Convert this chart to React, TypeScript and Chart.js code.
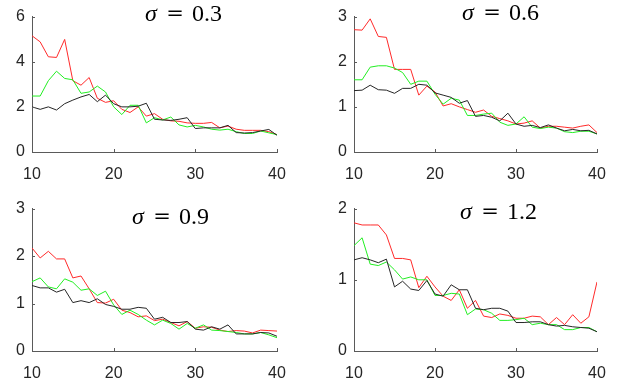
import React, { useEffect, useRef } from "react";
import { Chart, registerables } from "chart.js";
Chart.register(...registerables);

const xs = [10, 11, 12, 13, 14, 15, 16, 17, 18, 19, 20, 21, 22, 23, 24, 25, 26, 27, 28, 29, 30, 31, 32, 33, 34, 35, 36, 37, 38, 39, 40];

// sigma = 0.3
const s03Red = [5.15, 4.88, 4.22, 4.19, 4.99, 3.16, 2.96, 3.3, 2.38, 2.2, 2.27, 1.89, 1.75, 2.0, 1.59, 1.7, 1.45, 1.38, 1.36, 1.29, 1.27, 1.27, 1.31, 1.07, 1.15, 1.01, 0.96, 0.96, 0.96, 0.9, 0.77];
const s03Green = [2.48, 2.48, 3.16, 3.58, 3.26, 3.2, 2.6, 2.66, 2.92, 2.66, 2.0, 1.66, 2.07, 2.07, 1.29, 1.52, 1.42, 1.55, 1.2, 1.11, 1.18, 1.11, 1.01, 0.97, 1.01, 0.9, 0.82, 0.82, 0.93, 0.85, 0.77];
const s03Black = [2.0, 1.89, 2.0, 1.86, 2.14, 2.3, 2.44, 2.55, 2.23, 2.52, 2.14, 2.0, 2.0, 2.03, 2.16, 1.45, 1.42, 1.4, 1.45, 1.52, 1.04, 1.07, 1.07, 1.07, 1.18, 0.86, 0.84, 0.86, 0.93, 1.0, 0.74];

// sigma = 0.6
const s06Red = [2.71, 2.7, 2.95, 2.56, 2.54, 1.83, 1.83, 1.83, 1.26, 1.46, 1.33, 1.02, 1.07, 1.0, 0.94, 0.88, 0.93, 0.79, 0.74, 0.69, 0.62, 0.64, 0.69, 0.53, 0.57, 0.57, 0.55, 0.53, 0.57, 0.6, 0.43];
const s06Green = [1.6, 1.6, 1.88, 1.91, 1.91, 1.86, 1.76, 1.5, 1.57, 1.57, 1.28, 1.06, 1.19, 1.15, 0.81, 0.81, 0.84, 0.86, 0.66, 0.59, 0.62, 0.78, 0.55, 0.52, 0.55, 0.53, 0.45, 0.43, 0.46, 0.46, 0.4];
const s06Black = [1.36, 1.37, 1.48, 1.38, 1.37, 1.3, 1.41, 1.41, 1.5, 1.48, 1.31, 1.26, 1.21, 1.08, 1.14, 0.79, 0.81, 0.77, 0.69, 0.86, 0.62, 0.57, 0.59, 0.54, 0.6, 0.53, 0.47, 0.5, 0.47, 0.48, 0.4];

// sigma = 0.9
const s09Red = [2.17, 1.96, 2.1, 1.94, 1.94, 1.54, 1.58, 1.31, 1.02, 1.01, 1.09, 0.86, 0.81, 0.72, 0.74, 0.64, 0.67, 0.6, 0.53, 0.62, 0.48, 0.51, 0.5, 0.44, 0.41, 0.43, 0.42, 0.38, 0.44, 0.43, 0.42];
const s09Green = [1.46, 1.54, 1.35, 1.31, 1.52, 1.45, 1.28, 1.31, 1.17, 1.26, 0.97, 0.77, 0.86, 0.77, 0.65, 0.55, 0.65, 0.58, 0.46, 0.58, 0.48, 0.55, 0.44, 0.43, 0.41, 0.39, 0.36, 0.36, 0.39, 0.34, 0.28];
const s09Black = [1.38, 1.33, 1.33, 1.24, 1.3, 1.02, 1.06, 1.02, 1.1, 0.98, 0.94, 0.88, 0.88, 0.92, 0.9, 0.67, 0.71, 0.6, 0.6, 0.62, 0.46, 0.44, 0.51, 0.46, 0.55, 0.36, 0.36, 0.36, 0.39, 0.38, 0.31];

// sigma = 1.2
const s12Red = [1.8, 1.77, 1.77, 1.77, 1.63, 1.3, 1.3, 1.28, 0.89, 1.05, 0.9, 0.77, 0.71, 0.86, 0.6, 0.71, 0.49, 0.47, 0.52, 0.5, 0.46, 0.46, 0.49, 0.48, 0.37, 0.47, 0.37, 0.51, 0.39, 0.48, 0.97];
const s12Green = [1.48, 1.59, 1.22, 1.2, 1.25, 1.14, 1.01, 1.04, 1.0, 1.0, 0.78, 0.78, 0.81, 0.8, 0.51, 0.59, 0.58, 0.53, 0.43, 0.43, 0.44, 0.46, 0.37, 0.39, 0.37, 0.37, 0.3, 0.3, 0.33, 0.33, 0.27];
const s12Black = [1.28, 1.31, 1.28, 1.24, 1.29, 0.9, 0.98, 0.87, 0.85, 0.99, 0.8, 0.77, 0.93, 0.86, 0.86, 0.6, 0.58, 0.6, 0.6, 0.56, 0.4, 0.4, 0.41, 0.41, 0.37, 0.35, 0.36, 0.34, 0.33, 0.32, 0.27];

const sigmaLabels = ["0.3", "0.6", "0.9", "1.2"];
const yMaxes = [6, 3, 3, 2];
const ySteps = [2, 1, 1, 1];
const xTicks = [10, 20, 30, 40];

const AXIS = "#5a5a5a";
const LABEL = "#262626";

type Box = { left: number; top: number; width: number; height: number };
type Plot = { left: number; top: number; right: number; bottom: number };

const panels = [
  { i: 0, red: s03Red, green: s03Green, black: s03Black, box: { left: 0, top: 0, width: 315, height: 192 }, plot: { left: 32, top: 8, right: 277, bottom: 152 }, title: { x: 184, y: 15 } },
  { i: 1, red: s06Red, green: s06Green, black: s06Black, box: { left: 315, top: 0, width: 315, height: 192 }, plot: { left: 354, top: 8, right: 597, bottom: 152 }, title: { x: 501, y: 14 } },
  { i: 2, red: s09Red, green: s09Green, black: s09Black, box: { left: 0, top: 192, width: 315, height: 193 }, plot: { left: 32, top: 207, right: 277, bottom: 351 }, title: { x: 171, y: 218 } },
  { i: 3, red: s12Red, green: s12Green, black: s12Black, box: { left: 315, top: 192, width: 315, height: 193 }, plot: { left: 354, top: 207, right: 597, bottom: 351 }, title: { x: 499, y: 213 } },
];

function Panel(props: any) {
  const { i, red, green, black, box, plot, title } = props as { i: number; red: number[]; green: number[]; black: number[]; box: Box; plot: Plot; title: { x: number; y: number } };
  const ref = useRef<HTMLCanvasElement>(null);
  useEffect(() => {
    if (!ref.current) return;
    const toPts = (arr: number[]) => xs.map((x, k) => ({ x, y: arr[k] }));
    const ticksPlugin = {
      id: "inwardTicks",
      afterDraw(chart: any) {
        const ctx = chart.ctx;
        const xs_ = chart.scales.x;
        const ys_ = chart.scales.y;
        const a = chart.chartArea;
        ctx.save();
        ctx.strokeStyle = AXIS;
        ctx.lineWidth = 1;
        ctx.beginPath();
        xTicks.forEach((v) => {
          const px = Math.round(xs_.getPixelForValue(v)) + 0.5;
          ctx.moveTo(px, a.bottom);
          ctx.lineTo(px, a.bottom - 3);
        });
        for (let v = 0; v <= yMaxes[i]; v += ySteps[i]) {
          const py = Math.round(ys_.getPixelForValue(v)) + 0.5;
          ctx.moveTo(a.left, py);
          ctx.lineTo(a.left + 3, py);
        }
        ctx.stroke();
        // title
        const cx = title.x - box.left;
        const cy = title.y - box.top;
        ctx.fillStyle = "#000";
        ctx.textBaseline = "middle";
        ctx.textAlign = "center";
        ctx.font = 'italic 24px "Liberation Serif"';
        ctx.fillText("σ", cx - 33, cy);
        ctx.font = '21px "DejaVu Serif"';
        ctx.fillText("=", cx - 9, cy);
        ctx.font = '24px "Liberation Serif"';
        ctx.fillText(sigmaLabels[i], cx + 23, cy);
        ctx.restore();
      },
    };
    const chart = new Chart(ref.current, {
      type: "line",
      data: {
        datasets: [
          { data: toPts(black), borderColor: "#262626", borderWidth: 1, pointRadius: 0, order: 0, tension: 0 },
          { data: toPts(green), borderColor: "#22ee22", borderWidth: 1, pointRadius: 0, order: 1, tension: 0 },
          { data: toPts(red), borderColor: "#ff2a2a", borderWidth: 1, pointRadius: 0, order: 2, tension: 0 },
        ],
      },
      options: {
        responsive: false,
        animation: false,
        devicePixelRatio: 1,
        layout: { padding: { left: 0, top: plot.top - box.top, right: box.left + box.width - plot.right, bottom: 0 } },
        plugins: { legend: { display: false }, tooltip: { enabled: false } },
        scales: {
          x: {
            type: "linear",
            min: 10,
            max: 40,
            afterFit: (s: any) => { s.height = box.top + box.height - plot.bottom; },
            afterBuildTicks: (s: any) => { s.ticks = xTicks.map((v) => ({ value: v })); },
            ticks: { color: LABEL, padding: 13, maxRotation: 0, font: { family: '"Liberation Sans", Arial, sans-serif', size: 16 } },
            grid: { display: false, drawTicks: false },
            border: { display: true, color: AXIS, width: 1 },
          },
          y: {
            type: "linear",
            min: 0,
            max: yMaxes[i],
            afterFit: (s: any) => { s.width = plot.left - box.left; },
            ticks: { stepSize: ySteps[i], color: LABEL, padding: 7, font: { family: '"Liberation Sans", Arial, sans-serif', size: 16 } },
            grid: { display: false, drawTicks: false },
            border: { display: true, color: AXIS, width: 1 },
          },
        },
      } as any,
      plugins: [ticksPlugin],
    });
    return () => chart.destroy();
  }, []);
  return (
    <canvas
      ref={ref}
      width={box.width}
      height={box.height}
      style={{ position: "absolute", left: box.left, top: box.top, width: box.width, height: box.height }}
    />
  );
}

export default function App() {
  return (
    <div style={{ position: "absolute", left: 0, top: 0, width: 630, height: 385, background: "#fff" }}>
      {panels.map((p) => (
        <Panel key={p.i} {...p} />
      ))}
    </div>
  );
}
